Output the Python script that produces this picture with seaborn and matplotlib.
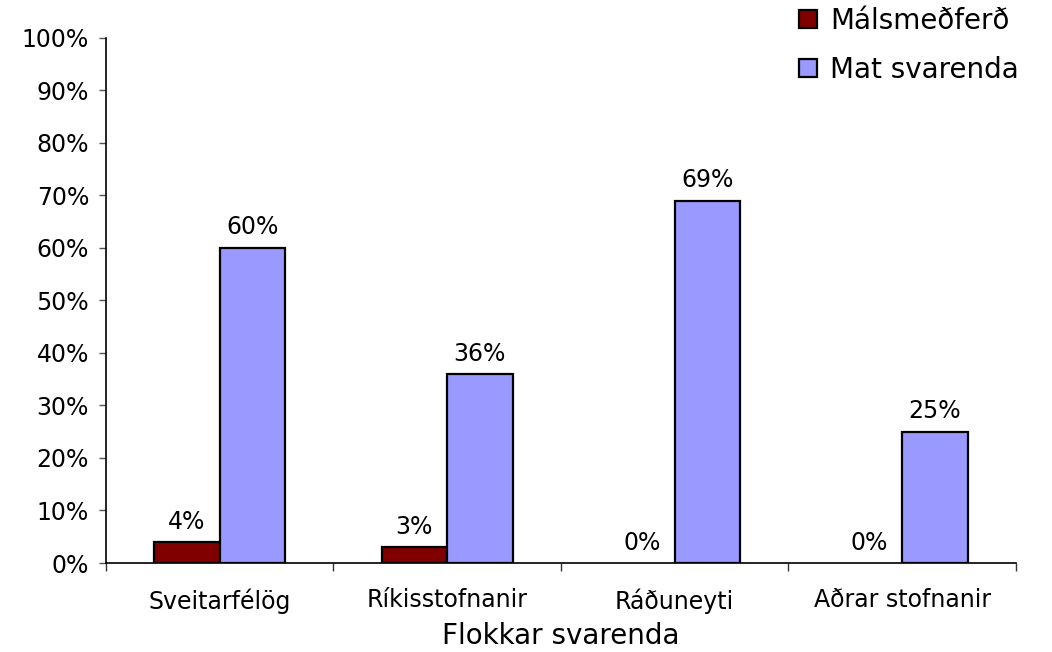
import pandas as pd
import seaborn as sns
import matplotlib.pyplot as plt
from matplotlib.ticker import FixedLocator, PercentFormatter

categories = ["Sveitarfélög", "Ríkisstofnanir", "Ráðuneyti", "Aðrar stofnanir"]
series = ["Málsmeðferð", "Mat svarenda"]
malsmedferd = [4, 3, 0, 0]
mat_svarenda = [60, 36, 69, 25]

df = pd.DataFrame({
    "Flokkur": categories * 2,
    "Röð": [series[0]] * 4 + [series[1]] * 4,
    "Gildi": malsmedferd + mat_svarenda,
})

sns.set_style("white")
plt.rcParams["font.family"] = ["DejaVu Sans"]
plt.rcParams["text.color"] = "black"
plt.rcParams["xtick.color"] = "black"
plt.rcParams["ytick.color"] = "black"
plt.rcParams["axes.labelcolor"] = "black"

fig = plt.figure(figsize=(10.52, 6.52), dpi=100)
ax = fig.add_axes([0.1005, 0.1365, 0.8653, 0.8057])

sns.barplot(data=df, x="Flokkur", y="Gildi", hue="Röð", order=categories,
            hue_order=series, palette=["#800000", "#9999FF"], width=0.575,
            edgecolor="black", linewidth=1.6, saturation=1, ax=ax)

for cont in ax.containers:
    for bar, v in zip(cont, cont.datavalues):
        if v == 0:
            bar.set_linewidth(0)
    ax.bar_label(cont, labels=[f"{v:.0f}%" for v in cont.datavalues],
                 padding=6, fontsize=17)

ax.set_xlim(-0.5, 3.5)
ax.set_ylim(0, 100)
ax.set_yticks(range(0, 101, 10))
ax.yaxis.set_major_formatter(PercentFormatter(decimals=0))
ax.tick_params(axis="y", labelsize=17, length=5, width=1, color="#555555",
               direction="out", left=True, pad=7)
ax.tick_params(axis="x", which="major", length=0, labelsize=17, pad=18)
ax.xaxis.set_minor_locator(FixedLocator([-0.5, 0.5, 1.5, 2.5, 3.5]))
ax.tick_params(axis="x", which="minor", length=6, width=1, color="#333333",
               direction="out", bottom=True)

for s in ["top", "right"]:
    ax.spines[s].set_visible(False)
for s in ["left", "bottom"]:
    ax.spines[s].set_color("black")
    ax.spines[s].set_linewidth(1.2)

ax.set_xlabel("Flokkar svarenda", fontsize=20, labelpad=6)
ax.set_ylabel("")

ax.legend(loc="upper left", bbox_to_anchor=(0.744, 1.015), bbox_transform=fig.transFigure,
          frameon=False, fontsize=20, handlelength=0.65, handleheight=0.65,
          handletextpad=0.45, labelspacing=0.75, borderaxespad=0.2)

fig.savefig("out.png", dpi=100)
